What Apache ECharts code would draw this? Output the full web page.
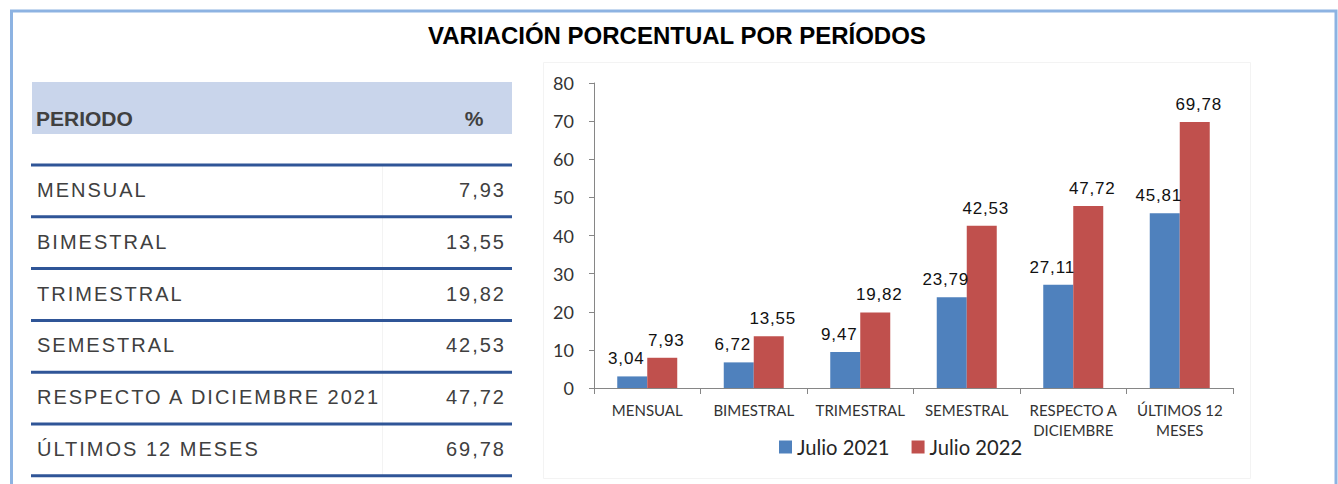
<!DOCTYPE html>
<html>
<head>
<meta charset="utf-8">
<script src="https://cdn.jsdelivr.net/npm/echarts@6/dist/echarts.min.js"></script>
<style>
html, body { margin: 0; padding: 0; background: #ffffff; }
#chart { width: 1338px; height: 484px; }
#chart text[style*="Liberation Sans"] { letter-spacing: 2px; }
#chart text[style*="Helvetica"] { letter-spacing: 0.8px; }
</style>
</head>
<body>
<div id="chart"></div>
<script>
// ---- data ----
const titleText = 'VARIACIÓN PORCENTUAL POR PERÍODOS';
const categories = ['MENSUAL', 'BIMESTRAL', 'TRIMESTRAL', 'SEMESTRAL', 'RESPECTO A\nDICIEMBRE', 'ÚLTIMOS 12\nMESES'];
const tableHeader = ['PERIODO', '%'];
const tableRows = ['MENSUAL', 'BIMESTRAL', 'TRIMESTRAL', 'SEMESTRAL', 'RESPECTO A DICIEMBRE 2021', 'ÚLTIMOS 12 MESES'];
const seriesNames = ['Julio 2021', 'Julio 2022'];
const julio2021 = [3.04, 6.72, 9.47, 23.79, 27.11, 45.81];
const julio2022 = [7.93, 13.55, 19.82, 42.53, 47.72, 69.78];
const yTicks = [0, 10, 20, 30, 40, 50, 60, 70, 80];

// ---- helpers ----
const fmt = v => v.toFixed(2).replace('.', ',');
const TXT = '#404040';

// ---- table built from data as graphic elements ----
const graphics = [];
// outer frame
graphics.push({ type: 'rect', silent: true, z: 0,
  shape: { x: 11.5, y: 11, width: 1324.5, height: 520 },
  style: { fill: 'none', stroke: '#8db3e2', lineWidth: 3 } });
// chart area frame (very faint)
graphics.push({ type: 'rect', silent: true, z: 0,
  shape: { x: 543.5, y: 62.5, width: 707, height: 416 },
  style: { fill: 'none', stroke: '#f3f3f3', lineWidth: 1 } });
// header band
graphics.push({ type: 'rect', silent: true, z: 1,
  shape: { x: 32, y: 82, width: 480, height: 52 },
  style: { fill: '#c9d5eb' } });
graphics.push({ type: 'text', silent: true, z: 2, x: 36, y: 118,
  style: { text: tableHeader[0], font: 'bold 21px Arial', fill: TXT, textAlign: 'left', textVerticalAlign: 'middle' } });
graphics.push({ type: 'text', silent: true, z: 2, x: 474, y: 118,
  style: { text: tableHeader[1], font: 'bold 21px Arial', fill: TXT, textAlign: 'center', textVerticalAlign: 'middle' } });
// faint column divider
graphics.push({ type: 'line', silent: true, z: 1,
  shape: { x1: 382.5, y1: 165, x2: 382.5, y2: 476 },
  style: { stroke: '#f3f3f3', lineWidth: 1 } });
const rowTop = 165, rowH = 51.8;
for (let i = 0; i <= tableRows.length; i++) {
  const y = rowTop + i * rowH;
  graphics.push({ type: 'line', silent: true, z: 2,
    shape: { x1: 31, y1: y, x2: 512, y2: y },
    style: { stroke: '#2f5597', lineWidth: 3 } });
}
tableRows.forEach((name, i) => {
  const cy = rowTop + i * rowH + 25;
  graphics.push({ type: 'text', silent: true, z: 2, x: 37, y: cy,
    style: { text: name, font: '20px "Liberation Sans"', fill: TXT, textAlign: 'left', textVerticalAlign: 'middle' } });
  graphics.push({ type: 'text', silent: true, z: 2, x: 506, y: cy,
    style: { text: fmt(julio2022[i]), font: '20px "Liberation Sans"', fill: TXT, textAlign: 'right', textVerticalAlign: 'middle' } });
});

const labelStyle = { fontFamily: 'Helvetica', fontSize: 17, color: '#111111' };

const chart = echarts.init(document.getElementById('chart'), null, { renderer: 'svg' });
chart.setOption({
  animation: false,
  backgroundColor: '#ffffff',
  title: {
    text: titleText,
    left: 428, top: 23, padding: 0,
    textStyle: { fontFamily: 'Arial', fontWeight: 'bold', fontSize: 24, color: '#000000' }
  },
  graphic: graphics,
  legend: {
    data: seriesNames,
    left: 779, top: 437, padding: 0,
    icon: 'rect', itemWidth: 13, itemHeight: 13, itemGap: 22,
    textStyle: { fontFamily: 'Lato', fontSize: 20.2, color: '#262626' }
  },
  grid: { left: 594, right: 105, top: 83, bottom: 96, containLabel: false },
  xAxis: {
    type: 'category',
    data: categories,
    axisLine: { lineStyle: { color: '#868686', width: 1 } },
    axisTick: { show: true, length: 6, lineStyle: { color: '#868686' } },
    axisLabel: { interval: 0, margin: 12, fontFamily: 'Lato', fontSize: 15, lineHeight: 20, color: '#333333' },
    splitLine: { show: false }
  },
  yAxis: {
    type: 'value',
    min: yTicks[0], max: yTicks[yTicks.length - 1], interval: yTicks[1] - yTicks[0],
    axisLine: { show: true, lineStyle: { color: '#868686', width: 1 } },
    axisTick: { show: true, length: 5, lineStyle: { color: '#868686' } },
    axisLabel: { margin: 20, fontFamily: 'Lato', fontSize: 18, color: '#333333' },
    splitLine: { show: false }
  },
  series: [
    {
      name: seriesNames[0], type: 'bar', data: julio2021,
      barWidth: 30, barGap: '0%',
      itemStyle: { color: '#4f81bd' },
      label: Object.assign({ show: true, position: 'top', distance: 9, offset: [-6, 0],
        formatter: p => fmt(p.value) }, labelStyle)
    },
    {
      name: seriesNames[1], type: 'bar', data: julio2022,
      barWidth: 30, barGap: '0%',
      itemStyle: { color: '#c0504d' },
      label: Object.assign({ show: true, position: 'top', distance: 9, offset: [4, 0],
        formatter: p => fmt(p.value) }, labelStyle)
    }
  ]
});
</script>
</body>
</html>
